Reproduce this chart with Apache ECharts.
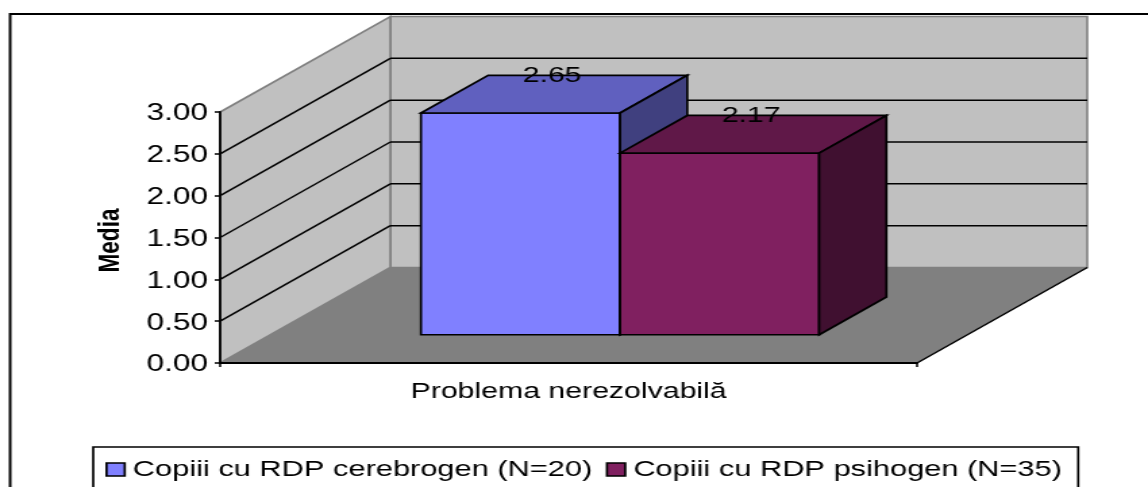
<!DOCTYPE html>
<html>
<head>
<meta charset="utf-8">
<style>
html,body{margin:0;padding:0;background:#fff;overflow:hidden;width:1148px;height:487px}
#chart{width:850px;height:487px;transform:scaleX(1.35059);transform-origin:0 0}
</style>
<script src="https://cdn.jsdelivr.net/npm/echarts@6/dist/echarts.min.js"></script>
</head>
<body>
<div id="chart"></div>
<script>
const categories = ['Problema nerezolvabilă'];
const seriesNames = ['Copiii cu RDP cerebrogen (N=20)', 'Copiii cu RDP psihogen (N=35)'];
const cerebrogenValues = [2.65];
const psihogenValues = [2.17];
const gridValues = [0.5, 1, 1.5, 2, 2.5];

const FONT = '"Liberation Sans", Arial, sans-serif';
const FS = 22.4;
const DEPTH_DX = 126, DEPTH_DY = 95.5;   // oblique projection of the full floor depth
const BAR_FRONT = 0.296, BAR_DEPTH = 0.395, BAR_FRAC = 2 / 7, BAR_NUDGE = 0.8;
const PALETTE = [
  {front: '#8080FF', top: '#6060BF', side: '#40407F'},
  {front: '#802060', top: '#601848', side: '#401030'}
];

function poly(points, fill, stroke, lw) {
  return {type: 'polygon', shape: {points}, style: {fill, stroke, lineWidth: lw, lineJoin: 'miter'}};
}
function seg(a, b, stroke, lw) {
  return {type: 'line', shape: {x1: a[0], y1: a[1], x2: b[0], y2: b[1]}, style: {stroke, lineWidth: lw}};
}
function bounds(api) {
  const band = api.size([1, 0])[0];
  const c = api.coord([0, 0]);
  return {left: c[0] - band / 2, right: c[0] + band / 2, base: c[1], top: api.coord([0, 3])[1], band, center: c[0]};
}
function renderWalls(params, api) {
  const b = bounds(api);
  const L = b.left, R = b.right, B = b.base, T = b.top, X = DEPTH_DX, Y = DEPTH_DY;
  return {type: 'group', children: [
    poly([[L, B], [R, B], [R + X, B - Y], [L + X, B - Y]], '#808080', '#808080', 1),
    poly([[L + X, T - Y], [R + X, T - Y], [R + X, B - Y], [L + X, B - Y]], '#C0C0C0', '#808080', 1.6),
    poly([[L, T], [L + X, T - Y], [L + X, B - Y], [L, B]], '#C0C0C0', '#808080', 1.6),
    seg([R, B], [R + X, B - Y], '#000', 1.4)
  ]};
}
function renderGrid(params, api) {
  const b = bounds(api);
  const y = api.coord([0, api.value(1)])[1];
  return {type: 'group', children: [
    seg([b.left, y], [b.left + DEPTH_DX, y - DEPTH_DY], '#000', 1.5),
    seg([b.left + DEPTH_DX, y - DEPTH_DY], [b.right + DEPTH_DX, y - DEPTH_DY], '#000', 1.5)
  ]};
}
function barRenderer(idx) {
  return function (params, api) {
    const b = bounds(api);
    const v = api.value(1);
    const shiftX = DEPTH_DX * BAR_FRONT + BAR_NUDGE, shiftY = DEPTH_DY * BAR_FRONT;
    const w = b.band * BAR_FRAC;
    const x0 = b.center - w + idx * w + shiftX, x1 = x0 + w;
    const yb = b.base - shiftY;
    const yt = api.coord([0, v])[1] - shiftY;
    const dx = DEPTH_DX * BAR_DEPTH, dy = DEPTH_DY * BAR_DEPTH;
    const c = PALETTE[idx];
    return {type: 'group', children: [
      poly([[x0, yb], [x1, yb], [x1, yt], [x0, yt]], c.front, '#000', 1.7),
      poly([[x0, yt], [x1, yt], [x1 + dx, yt - dy], [x0 + dx, yt - dy]], c.top, '#000', 1.7),
      poly([[x1, yb], [x1 + dx, yb - dy], [x1 + dx, yt - dy], [x1, yt]], c.side, '#000', 1.7),
      {type: 'text', z2: 10, style: {
        text: v.toFixed(2), x: (x0 + x1) / 2 + dx / 2 - 1.5, y: yt - 37.5,
        align: 'center', verticalAlign: 'middle',
        font: FS + 'px ' + FONT, fill: '#000'
      }}
    ]};
  };
}

const chart = echarts.init(document.getElementById('chart'), null, {renderer: 'canvas', width: 850, height: 487});
chart.setOption({
  animation: false,
  backgroundColor: '#fff',
  textStyle: {fontFamily: FONT},
  graphic: [{
    type: 'rect', silent: true, z: -10,
    shape: {x: 7.5, y: 14, width: 1000, height: 800},
    style: {fill: 'none', stroke: '#000', lineWidth: 2}
  }],
  grid: {left: 163, top: 112, width: 516, height: 251},
  legend: {
    data: seriesNames.map((name, i) => ({name, icon: 'rect', itemStyle: {color: PALETTE[i].front, borderColor: '#000', borderWidth: 1.7}})),
    left: 69, top: 447,
    orient: 'horizontal',
    padding: [11, 12, 30, 9],
    itemGap: 10,
    itemWidth: 13.5, itemHeight: 13,
    borderColor: '#000', borderWidth: 1.7, backgroundColor: '#fff',
    selectedMode: false,
    textStyle: {fontFamily: FONT, fontSize: 22.8, color: '#000', padding: [0, 0, 0, 1]}
  },
  xAxis: {
    type: 'category', data: categories, z: 2,
    axisLine: {lineStyle: {color: '#000', width: 1.8}},
    axisTick: {show: true, length: 4, lineStyle: {color: '#000', width: 1.5}},
    axisLabel: {fontFamily: FONT, fontSize: FS, color: '#000', margin: 18}
  },
  yAxis: {
    type: 'value', min: 0, max: 3, interval: 0.5, z: 2,
    name: 'Media', nameLocation: 'middle', nameGap: 70, nameRotate: 90,
    nameTextStyle: {fontFamily: FONT, fontSize: 22.6, fontWeight: 'bold', color: '#000', padding: [0, 6, 0, 0]},
    axisLine: {show: true, lineStyle: {color: '#000', width: 1.8}},
    axisTick: {show: true, length: 4, lineStyle: {color: '#000', width: 1.5}},
    axisLabel: {fontFamily: FONT, fontSize: 23.4, color: '#000', margin: 9, verticalAlign: 'top', lineHeight: 4, formatter: v => v.toFixed(2)},
    splitLine: {show: false}
  },
  series: [
    {type: 'custom', name: 'walls', z: 1, silent: true, renderItem: renderWalls, data: [[0, 3]]},
    {type: 'custom', name: 'grid', z: 1, silent: true, renderItem: renderGrid, data: gridValues.map(v => [0, v])},
    {type: 'custom', name: seriesNames[0], z: 3, renderItem: barRenderer(0), itemStyle: {color: PALETTE[0].front}, data: cerebrogenValues.map((v, i) => [i, v])},
    {type: 'custom', name: seriesNames[1], z: 3, renderItem: barRenderer(1), itemStyle: {color: PALETTE[1].front}, data: psihogenValues.map((v, i) => [i, v])}
  ]
});
</script>
</body>
</html>
